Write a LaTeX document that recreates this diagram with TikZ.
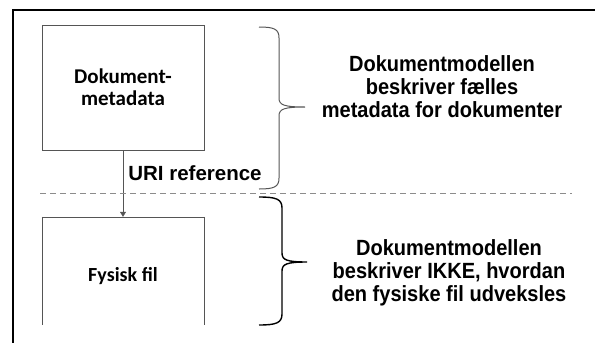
\documentclass[tikz,border=0pt]{standalone}
\usepackage{fontspec}
\setmainfont{Liberation Sans}
\newfontfamily\boxfont{Carlito}
\newfontfamily\notefont[FakeStretch=0.91]{Liberation Sans}
\usetikzlibrary{arrows.meta}

\definecolor{linegray}{RGB}{85,85,85}
\definecolor{dashgray}{RGB}{140,140,140}

\begin{document}
\begin{tikzpicture}[x=1pt,y=-1pt,
	box/.style={linegray,text=black,minimum width=162pt,inner sep=0pt,align=center,font=\boxfont\bfseries\fontsize{21}{22}\selectfont},
	note/.style={align=center,font=\notefont\bfseries\fontsize{22}{23}\selectfont}]
	\useasboundingbox (0,0) rectangle (595,343);
	%ramme
	\draw[line width=2pt] (13,343) -- (13,10) -- (595,10);
	%boksene
	\node[box,draw,minimum height=125pt] (meta) at (123,87.5) {Dokument-\\metadata};
	\node[box,minimum height=118pt,font=\boxfont\bfseries\fontsize{20}{20}\selectfont] (fil) at (123,276) {Fysisk fil};
	\draw[linegray] (fil.north west) -- ++(0,108);
	\draw[linegray] (fil.north east) -- ++(0,108);
	\draw[linegray] (fil.north west) -- (fil.north east);
	%pil
	\draw[linegray,-{Triangle[length=5pt,width=6pt]}] (meta) -- (fil);
	\node[font=\bfseries\fontsize{20.5}{21}\selectfont] (uri) at (195,173) {URI reference};
	%skillelinje
	\coordinate (sl) at (40,193);
	\coordinate (sr) at (572,193);
	\draw[dashgray,line width=1pt,dash pattern=on 6pt off 4pt] (sl) -- (sr);
	%klammer
	\draw[linegray,line width=1pt] (259,27) .. controls (274,27) and (279,29) .. (279,38) -- (279,98)
		.. controls (279,105) and (284,107) .. (305,107) .. controls (284,107) and (279,109) .. (279,116)
		-- (279,178) .. controls (279,187) and (274,189) .. (259,189);
	\draw[line width=1.4pt] (259,197) .. controls (276,197) and (282,199) .. (282,208) -- (282,253)
		.. controls (282,260) and (287,262) .. (307,262) .. controls (287,262) and (282,264) .. (282,271)
		-- (282,314) .. controls (282,323) and (276,325) .. (259,325);
	%tekst
	\node[note] (top) at (442,87) {Dokumentmodellen\\beskriver fælles\\metadata for dokumenter};
	\node[note] (bund) at (449,273) {Dokumentmodellen\\beskriver IKKE, hvordan\\den fysiske fil udveksles};
\end{tikzpicture}
\end{document}
